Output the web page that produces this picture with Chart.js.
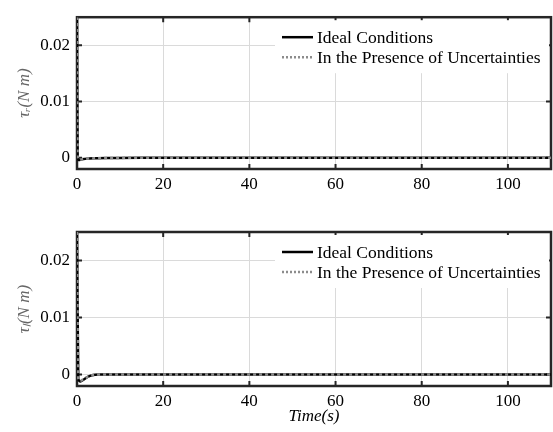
<!DOCTYPE html>
<html>
<head>
<meta charset="utf-8">
<script src="https://cdn.jsdelivr.net/npm/chart.js@4/dist/chart.umd.min.js"></script>
<style>
  html, body { margin: 0; padding: 0; background: #fff; }
  #wrap { position: relative; width: 553px; height: 432px; }
  #c1 { position: absolute; left: 0; top: 0; }
  #c2 { position: absolute; left: 0; top: 200px; }
</style>
</head>
<body>
<div id="wrap">
  <canvas id="c1" width="553" height="200"></canvas>
  <canvas id="c2" width="553" height="232"></canvas>
</div>
<script>
// ---- data ----
const seriesNames = ['Ideal Conditions', 'In the Presence of Uncertainties'];
const xTicks = [0, 20, 40, 60, 80, 100];
const yTicks = [0, 0.01, 0.02];
const yTickLabels = ['0', '0.01', '0.02'];

const timeR   = [0, 0.15, 0.4, 1, 2, 4, 8, 15, 110];
const idealR  = [0.025, 0.0002, -0.0004, -0.0003, -0.0002, -0.0001, -0.00005, 0, 0];
const uncertR = [0.025, 0.0003, -0.0003, -0.0003, -0.0002, -0.0001, -0.00005, 0, 0];

const timeL   = [0, 0.3, 0.8, 1.5, 2.5, 3.5, 5, 10, 110];
const idealL  = [0.025, -0.0008, -0.0012, -0.0009, -0.0004, -0.0001, 0, 0, 0];
const uncertL = [0.025, -0.0007, -0.0011, -0.0008, -0.0004, -0.0001, 0, 0, 0];

const FONT = "'Liberation Serif', 'Times New Roman', serif";

function pts(t, v) { return t.map((x, i) => ({ x: x, y: v[i] })); }

const framePlugin = {
  id: 'frameAndLegend',
  beforeDatasetsDraw(chart) {
    const ctx = chart.ctx;
    const a = chart.chartArea;
    const xs = chart.scales.x, ys = chart.scales.y;
    ctx.save();
    // frame
    ctx.strokeStyle = '#262626';
    ctx.lineWidth = 2.5;
    ctx.strokeRect(a.left, a.top, a.right - a.left, a.bottom - a.top);
    // inward ticks
    ctx.lineWidth = 2;
    xs.ticks.forEach(t => {
      const px = xs.getPixelForValue(t.value);
      ctx.beginPath();
      ctx.moveTo(px, a.bottom); ctx.lineTo(px, a.bottom - 5);
      ctx.moveTo(px, a.top); ctx.lineTo(px, a.top + 5);
      ctx.stroke();
    });
    ys.ticks.forEach(t => {
      const py = ys.getPixelForValue(t.value);
      ctx.beginPath();
      ctx.moveTo(a.left, py); ctx.lineTo(a.left + 5, py);
      ctx.moveTo(a.right, py); ctx.lineTo(a.right - 5, py);
      ctx.stroke();
    });
    ctx.restore();
  },
  afterDraw(chart) {
    const ctx = chart.ctx;
    const a = chart.chartArea;
    ctx.save();
    // legend box (white, hides grid)
    const bx = a.right - 276, by = a.top + 3, bw = 274, bh = 53;
    ctx.fillStyle = '#ffffff';
    ctx.fillRect(bx, by, bw, bh);
    const rows = [a.top + 20, a.top + 40];
    chart.data.datasets.forEach((ds, i) => {
      const y = rows[i];
      ctx.beginPath();
      ctx.lineWidth = 2.5;
      ctx.strokeStyle = ds.borderColor;
      ctx.setLineDash(i === 1 ? [2, 2] : []);
      ctx.moveTo(a.right - 269, y);
      ctx.lineTo(a.right - 238, y);
      ctx.stroke();
      ctx.setLineDash([]);
      ctx.fillStyle = '#000';
      ctx.font = '17.5px ' + FONT;
      ctx.textBaseline = 'middle';
      ctx.textAlign = 'left';
      ctx.fillText(ds.label, a.right - 234, y + 1);
    });
    ctx.restore();
  }
};

function makeChart(id, t, ideal, uncert, yTitle, padTop, xHeight, xTitle) {
  return new Chart(document.getElementById(id), {
    type: 'line',
    data: {
      datasets: [
        { label: seriesNames[0], data: pts(t, ideal), borderColor: '#000000', borderWidth: 2.5,
          order: 1, pointRadius: 0, cubicInterpolationMode: 'monotone', fill: false },
        { label: seriesNames[1], data: pts(t, uncert), borderColor: '#8c8c8c', borderWidth: 2.5,
          order: 0, borderDash: [3, 3], pointRadius: 0, cubicInterpolationMode: 'monotone', fill: false }
      ]
    },
    options: {
      responsive: false,
      devicePixelRatio: 1,
      animation: false,
      layout: { padding: { top: padTop, right: 2, left: 0, bottom: 0 } },
      plugins: { legend: { display: false }, tooltip: { enabled: false } },
      scales: {
        x: {
          type: 'linear', min: 0, max: 110,
          afterBuildTicks: s => { s.ticks = xTicks.map(v => ({ value: v })); },
          afterFit: s => { s.height = xHeight; },
          grid: { color: '#dadada', lineWidth: 1, drawTicks: false },
          border: { display: false },
          ticks: { font: { family: FONT, size: 17 }, color: '#000', padding: 5, maxRotation: 0 },
          title: xTitle ? { display: true, text: xTitle, font: { family: FONT, size: 17, style: 'italic' },
                            color: '#000', padding: { top: 0, bottom: 5 } } : { display: false }
        },
        y: {
          type: 'linear', min: -0.002, max: 0.025,
          afterBuildTicks: s => { s.ticks = yTicks.map(v => ({ value: v })); },
          afterFit: s => { s.width = 77; },
          grid: { color: '#dadada', lineWidth: 1, drawTicks: false },
          border: { display: false },
          ticks: { font: { family: FONT, size: 17 }, color: '#000', padding: 7,
                   callback: (v) => { const i = yTicks.indexOf(v); return i >= 0 ? yTickLabels[i] : ''; } },
          title: { display: true, text: yTitle, font: { family: FONT, size: 17, style: 'italic' },
                   color: '#666', padding: { top: 14, bottom: 0 } }
        }
      }
    },
    plugins: [framePlugin]
  });
}

makeChart('c1', timeR, idealR, uncertR, 'τᵣ(N m)', 12, 31, null);
makeChart('c2', timeL, idealL, uncertL, 'τₗ(N m)', 32, 46, 'Time(s)');
</script>
</body>
</html>
